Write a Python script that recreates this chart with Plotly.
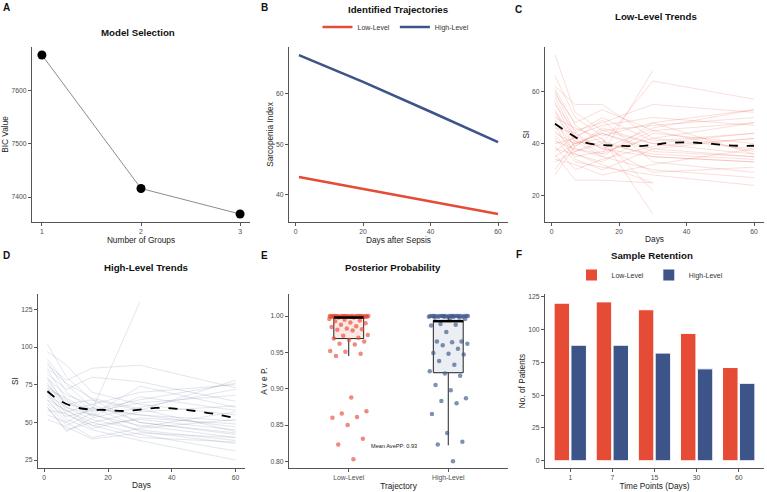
import plotly.graph_objects as go

# ---------------- data ----------------
GROUPS = [1, 2, 3]
BIC = [7667, 7416, 7368]

TRAJ_DAYS = [1, 20, 40, 60]
TRAJ_LOW = [43.5, 41.1, 38.6, 36.2]
TRAJ_HIGH = [67.6, 62.3, 56.4, 50.4]

VISIT_DAYS = [1, 7, 15, 30, 60]
LOW_LINES = [
    [74, 52, 45, 40, 36], [66, 50, 43, 48, 53], [62, 55, 55, 42, 38], [61, 47, 40, 64, 57],
    [60, 44, 38, 35, 33], [59, 48, 53, 45, 48], [58, 42, 36, 68, None], [56, 40, 44, 38, 42],
    [55, 45, 48, 55, 52], [53, 38, 35, 30, 27], [52, 43, 47, 50, 47], [51, 41, 39, 29, 31],
    [50, 46, 42, 13, None], [49, 36, 33, 44, 40], [48, 39, 45, 47, 50], [47, 34, 30, 38, 35],
    [46, 44, 50, 41, 44], [45, 37, 40, 36, 34], [44, 40, 42, 22, None], [43, 35, 37, 42, 48],
    [42, 33, 31, 28, 24], [41, 38, 36, 45, 37], [40, 42, 49, 33, 29], [39, 30, 34, 39, 42],
    [38, 36, 32, 25, None], [37, 43, 38, 46, 53], [36, 26, 26, 25, None], [35, 40, 44, 37, 35],
    [34, 32, 28, 32, 38], [33, 37, 41, 35, 33], [30, 41, 35, 48, 36], [28, 39, 46, 40, 44],
]
HIGH_LINES = [
    [102, 80, 65, 50, 42], [97, 88, 70, 62, 55], [92, 75, 60, 55, 47], [90, 70, 58, 130, None],
    [88, 78, 86, 88, 73], [85, 65, 55, 48, 40], [82, 72, 80, 77, 64], [80, 60, 52, 45, 38],
    [79, 68, 62, 70, 75], [76, 58, 50, 42, 31], [75, 62, 65, 58, 78], [73, 55, 48, 52, 45],
    [72, 66, 57, 63, 68], [70, 52, 45, 38, 25], [68, 60, 55, 74, 60], [67, 57, 62, 50, 43],
    [65, 50, 40, 46, 52], [63, 54, 58, 65, 76], [62, 48, 56, 44, 36], [60, 45, 50, 57, 61],
    [58, 56, 46, 53, 49], [55, 50, 60, 47, 57], [52, 47, 39, 43, 40], [60, 44, 53, 60, 72],
    [65, 58, 48, 40, 37], [78, 62, 59, 55, 51], [86, 76, 66, 59, 44], [74, 64, 54, 67, 58],
]
MEAN_LOW_DAYS = [1, 4, 7, 10, 15, 20, 25, 30, 35, 40, 45, 50, 55, 60]
MEAN_LOW = [47.6, 45.0, 42.5, 40.4, 39.5, 39.2, 39.0, 39.5, 40.3, 40.5, 40.2, 39.6, 39.2, 39.2]
MEAN_HIGH_DAYS = [1, 5, 10, 15, 20, 25, 30, 35, 40, 45, 50, 55, 60]
MEAN_HIGH = [70.7, 64.3, 60.0, 58.5, 58.2, 57.6, 58.5, 59.6, 59.3, 58.2, 56.8, 55.0, 52.8]

TRAJ_NAMES = ["Low-Level", "High-Level"]
LOW_PP = [0.803, 0.823, 0.831, 0.850, 0.860, 0.861, 0.866, 0.869, 0.888,
          0.945, 0.948, 0.951, 0.952, 0.961, 0.962, 0.965, 0.967,
          0.969, 0.970, 0.973, 0.974, 0.980, 0.981, 0.982, 0.983, 0.985, 0.986,
          0.988, 0.990, 0.991, 0.993, 0.994, 0.995, 0.996,
          0.998, 0.998, 0.999, 0.999, 0.999, 0.999, 0.999, 0.999, 0.999, 0.999,
          0.999, 0.999, 0.999, 0.999, 0.999, 0.999, 0.999,
          1.000, 1.000, 1.000, 1.000, 1.000, 1.000, 1.000, 1.000, 1.000,
          1.000, 1.000, 1.000, 1.000, 1.000, 1.000, 1.000, 1.000]
HIGH_PP = [0.800, 0.823, 0.827, 0.839, 0.865, 0.880, 0.883, 0.887, 0.898, 0.905, 0.918,
           0.921, 0.924, 0.933, 0.938, 0.947, 0.948, 0.949, 0.955, 0.960, 0.962,
           0.964, 0.965, 0.965, 0.978, 0.987, 0.988, 0.989,
           0.996, 0.997, 0.998, 0.998, 0.999, 0.999, 0.999, 0.999, 0.999, 0.999,
           1.000, 1.000, 1.000, 1.000, 1.000, 1.000, 1.000, 1.000, 1.000, 1.000,
           1.000, 1.000, 1.000, 1.000, 1.000, 1.000, 1.000, 1.000]
BOX_Q1 = [0.969, 0.922]
BOX_MED = [0.998, 0.993]
BOX_Q3 = [1.000, 0.994]
BOX_LO = [0.945, 0.822]
BOX_HI = [1.000, 1.000]
MEAN_AVEPP = 0.93

TIME_POINTS = ["1", "7", "15", "30", "60"]
N_LOW = [120, 121, 115, 97, 71]
N_HIGH = [88, 88, 82, 70, 59]

# ---------------- style ----------------
FONT = "Liberation Sans, Arial, sans-serif"
RED = "#E64B35"
BLUE = "#3C5488"
W, H = 767, 492
AX = "#555555"
TICKC = "#4d4d4d"


def fx(p):
    return p / W


def fy(p):
    return 1 - p / H


fig = go.Figure()

# A
fig.add_trace(go.Scatter(x=GROUPS, y=BIC, mode="lines+markers", xaxis="x", yaxis="y",
                         line=dict(color="#8c8c8c", width=1),
                         marker=dict(color="black", size=9), showlegend=False))
# B
fig.add_trace(go.Scatter(x=TRAJ_DAYS, y=TRAJ_LOW, mode="lines", name=TRAJ_NAMES[0],
                         xaxis="x2", yaxis="y2", line=dict(color=RED, width=2.6), legend="legend"))
fig.add_trace(go.Scatter(x=TRAJ_DAYS, y=TRAJ_HIGH, mode="lines", name=TRAJ_NAMES[1],
                         xaxis="x2", yaxis="y2", line=dict(color=BLUE, width=2.6), legend="legend"))
# C
for ln in LOW_LINES:
    fig.add_trace(go.Scatter(x=VISIT_DAYS, y=ln, mode="lines", xaxis="x3", yaxis="y3",
                             line=dict(color=RED, width=0.8), opacity=0.22, showlegend=False,
                             connectgaps=False))
fig.add_trace(go.Scatter(x=MEAN_LOW_DAYS, y=MEAN_LOW, mode="lines", xaxis="x3", yaxis="y3",
                         line=dict(color="black", width=1.8, dash="dash", shape="spline"),
                         showlegend=False))
# D
for ln in HIGH_LINES:
    fig.add_trace(go.Scatter(x=VISIT_DAYS, y=ln, mode="lines", xaxis="x4", yaxis="y4",
                             line=dict(color=BLUE, width=0.8), opacity=0.18, showlegend=False))
fig.add_trace(go.Scatter(x=MEAN_HIGH_DAYS, y=MEAN_HIGH, mode="lines", xaxis="x4", yaxis="y4",
                         line=dict(color="black", width=1.8, dash="dash", shape="spline"),
                         showlegend=False))
# E
BOX_W = 0.3
JIT = 0.2
fills = ["rgba(230,75,53,0.12)", "rgba(60,84,136,0.10)"]
cols = [RED, BLUE]
for i, pts in enumerate([LOW_PP, HIGH_PP]):
    pos = i + 1
    fig.add_trace(go.Box(x=[pos], q1=[BOX_Q1[i]], median=[BOX_MED[i]], q3=[BOX_Q3[i]],
                         lowerfence=[BOX_LO[i]], upperfence=[BOX_HI[i]], width=BOX_W,
                         orientation="v", boxpoints=False, whiskerwidth=0,
                         fillcolor=fills[i], line=dict(color="#222222", width=1),
                         xaxis="x5", yaxis="y5", showlegend=False))
    offs = [(((k + 1) * 0.6180339887) % 1 - 0.5) * 2 * JIT for k in range(len(pts))]
    fig.add_trace(go.Scatter(x=[pos + o for o in offs], y=pts, mode="markers",
                             marker=dict(color=cols[i], size=4.5, opacity=0.65),
                             xaxis="x5", yaxis="y5", showlegend=False))
# F
fig.add_trace(go.Bar(x=TIME_POINTS, y=N_LOW, name=TRAJ_NAMES[0], marker=dict(color=RED, line=dict(color="white", width=1)),
                     xaxis="x6", yaxis="y6", legend="legend2"))
fig.add_trace(go.Bar(x=TIME_POINTS, y=N_HIGH, name=TRAJ_NAMES[1], marker=dict(color=BLUE, line=dict(color="white", width=1)),
                     xaxis="x6", yaxis="y6", legend="legend2"))


def axis(dom, anchor, rng, title, tickvals=None, ticktext=None, standoff=2, **kw):
    d = dict(domain=dom, anchor=anchor, range=rng, showline=True, linecolor=AX, linewidth=1,
             ticks="outside", ticklen=3, tickcolor=AX, tickwidth=1,
             tickfont=dict(family=FONT, size=6.8, color=TICKC),
             showgrid=False, zeroline=False,
             title=dict(text=title, font=dict(family=FONT, size=8.3, color="#222"), standoff=standoff))
    if tickvals is not None:
        d["tickvals"] = tickvals
    if ticktext is not None:
        d["ticktext"] = ticktext
    d.update(kw)
    return d


rowA = [fy(222), fy(47)]
rowB = [fy(468), fy(294)]
colA = [fx(32), fx(250)]
colB = [fx(289), fx(508)]
colC = [fx(545), fx(764)]
colD = [fx(38), fx(245)]
DAY_RANGE = [-1.95, 62.95]

layout = dict(
    width=W, height=H, template="none", margin=dict(l=0, r=0, t=0, b=0),
    paper_bgcolor="white", plot_bgcolor="white", font=dict(family=FONT),
    barmode="group", bargap=0.2, bargroupgap=0.08,
    xaxis=axis(colA, "y", [0.9, 3.1], "Number of Groups", [1, 2, 3]),
    yaxis=axis(rowA, "x", [7353, 7682], "BIC Value", [7400, 7500, 7600], standoff=1),
    xaxis2=axis(colB, "y2", DAY_RANGE, "Days after Sepsis", [0, 20, 40, 60]),
    yaxis2=axis(rowA, "x2", [34.6, 69.2], "Sarcopenia Index", [40, 50, 60], standoff=1),
    xaxis3=axis(colC, "y3", DAY_RANGE, "Days", [0, 20, 40, 60]),
    yaxis3=axis(rowA, "x3", [10.0, 77.0], "SI", [20, 40, 60], standoff=1),
    xaxis4=axis(colD, "y4", DAY_RANGE, "Days", [0, 20, 40, 60]),
    yaxis4=axis(rowB, "x4", [19.75, 135.25], "SI", [25, 50, 75, 100, 125], standoff=1),
    xaxis5=axis(colB, "y5", [0.4, 2.6], "Trajectory", [1, 2], TRAJ_NAMES),
    yaxis5=axis(rowB, "x5", [0.7908, 1.0304], "A v e P.", [0.80, 0.85, 0.90, 0.95, 1.00],
                standoff=1, tickformat=".2f"),
    xaxis6=axis(colC, "y6", [-0.6, 4.6], "Time Points (Days)", type="category"),
    yaxis6=axis(rowB, "x6", [-5.5, 127], "No. of Patients", [0, 25, 50, 75, 100, 125], standoff=1),
    legend=dict(orientation="h", x=fx(396), y=fy(27), xanchor="center", yanchor="middle",
                font=dict(family=FONT, size=7, color="#333"), bgcolor="rgba(0,0,0,0)",
                itemwidth=30, tracegroupgap=0),
    legend2=dict(orientation="h", x=fx(650), y=fy(275), xanchor="center", yanchor="middle",
                 font=dict(family=FONT, size=7, color="#333"), bgcolor="rgba(0,0,0,0)",
                 itemwidth=30),
)
fig.update_layout(**layout)

# panel letters and titles
letters = [("A", 7, 8), ("B", 264, 7), ("C", 518, 9), ("D", 7, 255), ("E", 264, 255), ("F", 519, 254)]
for t, x, y in letters:
    fig.add_annotation(text="<b>%s</b>" % t, x=fx(x), y=fy(y), xref="paper", yref="paper",
                       showarrow=False, xanchor="center", yanchor="middle",
                       font=dict(family=FONT, size=10, color="#111"))
titles = [("Model Selection", 138, 32), ("Identified Trajectories", 398, 10), ("Low-Level Trends", 656, 17),
          ("High-Level Trends", 146, 267), ("Posterior Probability", 393, 267), ("Sample Retention", 652, 255)]
for t, x, y in titles:
    fig.add_annotation(text="<b>%s</b>" % t, x=fx(x), y=fy(y), xref="paper", yref="paper",
                       showarrow=False, xanchor="center", yanchor="middle",
                       font=dict(family=FONT, size=9.7, color="#111"))

# thick median bars
for i in range(2):
    pos = i + 1
    fig.add_shape(type="line", xref="x5", yref="y5", x0=pos - BOX_W / 2, x1=pos + BOX_W / 2,
                  y0=BOX_MED[i], y1=BOX_MED[i], line=dict(color="black", width=2.5))

fig.add_annotation(text="Mean AvePP: %.2f" % MEAN_AVEPP, x=1.45, y=0.821, xref="x5", yref="y5",
                   showarrow=False, font=dict(family=FONT, size=5.6, color="#222"))

fig.write_html("out.html")
